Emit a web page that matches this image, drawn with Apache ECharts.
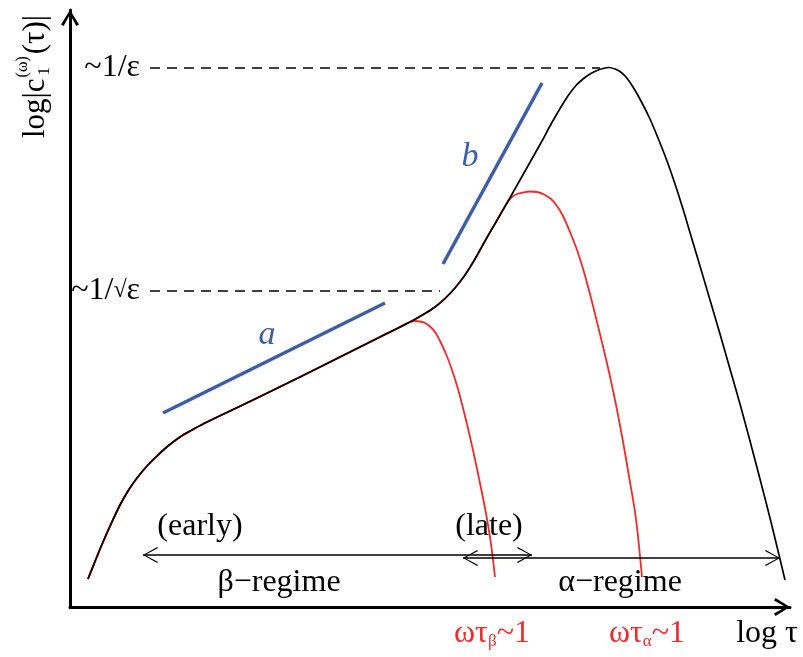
<!DOCTYPE html>
<html><head><meta charset="utf-8">
<script src="https://cdn.jsdelivr.net/npm/echarts@6/dist/echarts.min.js"></script>
<style>html,body{margin:0;padding:0;background:#fff}#c{width:803px;height:657px}</style>
</head><body><div id="c"></div>
<script>
// ---- data (arbitrary log units) ----
const fullCurve = [[18,28],[26,48],[33,65],[41,83],[50,102],[58,116],[67,129],[77,141],[87,151],[98,161],[110,170],[122,177],[133,183],[183,207],[230,230],[280,255],[310,270],[340,285],[355,293.5],[365,300],[375,308.5],[385,319],[395,332],[405,348],[415,366],[426,385],[437,404],[450,427],[463,450],[472,466],[480,481],[488,495],[494,505],[500,514],[506,521.5],[513,528],[520,533],[527,536.5],[533,538.5],[539,539.5],[545,538],[550,535.5],[556,530],[563,520],[571,506],[580,488],[588,469],[597,446],[605,423],[613,398],[621,371],[630,341],[640,307],[650,273],[660,238],[670,203],[680,166],[690,128],[700,89],[710,48],[715,27]];
const betaCurve = [[18,28],[26,48],[33,65],[41,83],[50,102],[58,116],[67,129],[77,141],[87,151],[98,161],[110,170],[122,177],[133,183],[183,207],[230,230],[280,255],[310,270],[330,280],[340,285],[345,286],[350,285.5],[355,284],[360,280.5],[365,275],[370,266],[376,253],[382,237],[388,218],[394,195],[400,170],[406,143],[412,114],[417,88],[421,63],[425,30]];
const alphaCurve = [[18,28],[26,48],[33,65],[41,83],[50,102],[58,116],[67,129],[77,141],[87,151],[98,161],[110,170],[122,177],[133,183],[183,207],[230,230],[280,255],[310,270],[340,285],[355,293.5],[365,300],[375,308.5],[385,319],[395,332],[405,348],[415,366],[426,385],[437,404],[442,410],[447,413],[453,414.5],[460,415.5],[467,415],[474,412.5],[481,408],[487,401],[493,391],[500,375],[507,357],[514,335],[521,309],[528,281],[536,248],[544,212],[552,171],[560,125],[566,88],[572,30]];
const slopeA = [[93,194],[315,304]];
const slopeB = [[373,343],[472,524]];
const slopeLabels = [{text:'a', x:197, y:272},{text:'b', x:400, y:450}];
const levels = [{label:'~1/ε', y:539, x0:80, x1:530},{label:'~1/{r|√}ε', y:316, x0:80, x1:370}];
const regimes = [{y:52, from:73, to:462},{y:49, from:393, to:710}];
const regimeLabels = [{text:'(early)', x:130, y:80},{text:'(late)', x:419, y:80},{text:'β−regime', x:209, y:24},{text:'α−regime', x:550, y:24}];
const redTicks = [{text:'ωτ{s|β}~1', x:422, y:-27},{text:'ωτ{s|α}~1', x:577, y:-27}];
const xName = {text:'log τ', x:697, y:-27};

// ---- styles ----
const FONT = '"Liberation Serif","DejaVu Serif",serif';
const FS = 32;
const YFS = 31;
const RED = '#ee2b2b', BLUE = '#3d5da8';
const axisArrow = 'path://M9,2L9.01,2Z M9,18L18,32.5L15.4,34L9,22.5L2.6,34L0,32.5Z';
const openArrow = 'path://M8,0L8.01,0Z M8,15L16,29.2L15,30L8,17L1,30L0,29.2Z';

const ctx = document.createElement('canvas').getContext('2d');
function tw(t, s){ ctx.font = s + 'px ' + FONT; return ctx.measureText(t).width; }

const chart = echarts.init(document.getElementById('c'));
const w1 = tw('log|c', YFS), wsup = tw('(ω)', 16), wsub = tw('1', 17);
const yl = [
  {type:'text', x:0, y:0, style:{text:'log|c', font:YFS+'px '+FONT, fill:'#000', verticalAlign:'middle'}},
  {type:'text', x:w1+1, y:-13, style:{text:'(ω)', font:'16px '+FONT, fill:'#000', verticalAlign:'middle'}},
  {type:'text', x:w1+3, y:9, style:{text:'1', font:'17px '+FONT, fill:'#000', verticalAlign:'middle'}},
  {type:'text', x:w1+2+Math.max(wsup,wsub)+1, y:0, style:{text:'(τ)|', font:YFS+'px '+FONT, fill:'#000', verticalAlign:'middle'}}
];

function textScatter(items, color, extra){
  return {type:'scatter', symbolSize:0, clip:false, silent:true, z:5,
    itemStyle:{opacity:1, color:color},
    data: items.map(d => ({value:[d.x, d.y], name:d.text})),
    label: Object.assign({show:true, position:'inside', formatter:p=>p.name, color:color, opacity:1,
      textBorderWidth:0, fontFamily:FONT, fontSize:FS}, extra||{})};
}

chart.setOption({
  animation:false,
  grid:{left:70, right:13, top:10, bottom:50},
  xAxis:{type:'value', min:0, max:720, axisTick:{show:false}, axisLabel:{show:false}, splitLine:{show:false},
    axisLine:{show:true, onZero:false, lineStyle:{color:'#000', width:3}, symbol:['none', axisArrow], symbolSize:[18,32]}},
  yAxis:{type:'value', min:0, max:597, axisTick:{show:false}, axisLabel:{show:false}, splitLine:{show:false},
    axisLine:{show:true, onZero:false, lineStyle:{color:'#000', width:3}, symbol:['none', axisArrow], symbolSize:[18,32]}},
  graphic:[{type:'group', x:36, y:138, rotation:Math.PI/2, children:yl}],
  series:[
    {type:'line', data:betaCurve, smooth:0.3, symbol:'none', lineStyle:{color:RED, width:1.8}, z:2, silent:true},
    {type:'line', data:alphaCurve, smooth:0.3, symbol:'none', lineStyle:{color:RED, width:1.8}, z:2, silent:true},
    {type:'line', data:fullCurve, smooth:0.3, symbol:'none', lineStyle:{color:'#000', width:1.7}, z:3, silent:true},
    {type:'line', data:slopeA, symbol:'none', lineStyle:{color:BLUE, width:3.5}, z:4, silent:true},
    {type:'line', data:slopeB, symbol:'none', lineStyle:{color:BLUE, width:3.5}, z:4, silent:true},
    {type:'line', data:[], silent:true, markLine:{silent:true, symbol:'none', animation:false,
      lineStyle:{color:'#000', type:[10,7], width:1.5},
      label:{show:true, position:'start', distance:10, color:'#000', fontFamily:FONT, fontSize:FS,
        rich:{r:{fontSize:24, fontFamily:FONT, color:'#000'}}},
      emphasis:{disabled:true},
      data: levels.map(l => [{coord:[l.x0, l.y], name:l.label, label:{formatter:l.label}}, {coord:[l.x1, l.y]}])}},
    {type:'line', data:[], silent:true, markLine:{silent:true, symbol:[openArrow, openArrow], symbolSize:[16,30], animation:false,
      lineStyle:{color:'#000', type:'solid', width:1.5}, label:{show:false}, emphasis:{disabled:true},
      data: regimes.map(r => [{coord:[r.from, r.y]}, {coord:[r.to, r.y]}])}},
    textScatter(slopeLabels, BLUE, {fontStyle:'italic', fontSize:34}),
    textScatter(regimeLabels, '#000'),
    textScatter(redTicks, RED, {rich:{s:{fontSize:17, fontFamily:FONT, color:RED, verticalAlign:'bottom', lineHeight:12}}}),
    textScatter([xName], '#000')
  ]
});
</script></body></html>
